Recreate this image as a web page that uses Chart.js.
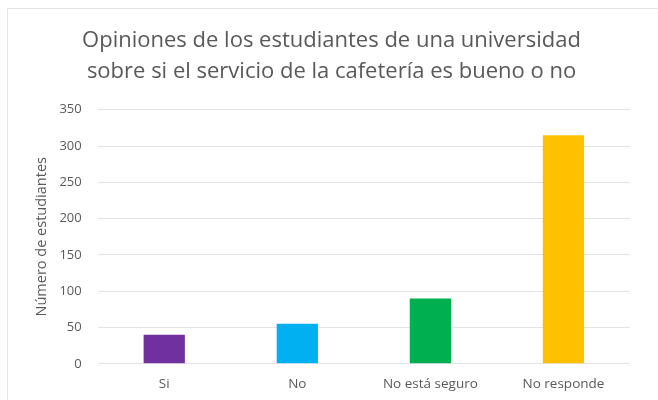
<!DOCTYPE html>
<html>
<head>
<meta charset="utf-8">
<script src="https://cdn.jsdelivr.net/npm/chart.js@4.4.1/dist/chart.umd.min.js"></script>
<style>
  html, body { margin: 0; padding: 0; background: #fff; }
  #wrap { position: relative; width: 658px; height: 400px; overflow: hidden; }
  #frame { position: absolute; left: 7px; top: 8px; width: 700px; height: 500px; border: 1px solid #e3e3e3; box-sizing: border-box; }
  canvas { position: absolute; left: 0; top: 0; }
</style>
</head>
<body>
<div id="wrap">
  <div id="frame"></div>
  <canvas id="chart" width="658" height="400"></canvas>
</div>
<script>
const categories = ['Si', 'No', 'No está seguro', 'No responde'];
const students = [40, 55, 90, 315];
const barColors = ['#7030A0', '#00B0F0', '#00B050', '#FFC000'];
const titleLines = ['Opiniones de los estudiantes de una universidad', 'sobre si el servicio de la cafetería es bueno o no'];

const ctx = document.getElementById('chart').getContext('2d');
new Chart(ctx, {
  type: 'bar',
  data: {
    labels: categories,
    datasets: [{
      label: 'Número de estudiantes',
      data: students,
      backgroundColor: barColors,
      categoryPercentage: 1,
      barPercentage: 0.31
    }]
  },
  options: {
    responsive: false,
    animation: false,
    layout: { padding: { top: 26, right: 28, left: 33, bottom: -4 } },
    scales: {
      x: {
        grid: { display: false, drawTicks: false },
        border: { display: false },
        ticks: { color: '#595959', font: { family: 'Open Sans', size: 13.5 }, padding: 12 }
      },
      y: {
        min: 0,
        max: 350,
        ticks: { stepSize: 50, color: '#595959', font: { family: 'Open Sans', size: 13 }, padding: 16 },
        grid: { color: '#e4e4e4', lineWidth: 1, drawTicks: false },
        border: { display: false },
        title: {
          display: true,
          text: 'Número de estudiantes',
          color: '#595959',
          font: { family: 'Open Sans', size: 14.5 },
          padding: { top: 0, bottom: -7 }
        }
      }
    },
    plugins: {
      legend: { display: false },
      tooltip: { enabled: false },
      title: {
        display: true,
        text: titleLines,
        color: '#595959',
        font: { family: 'Open Sans', size: 22, weight: 'normal', lineHeight: 1.38 },
        padding: { top: 0, bottom: 23 }
      }
    }
  }
});
</script>
</body>
</html>
